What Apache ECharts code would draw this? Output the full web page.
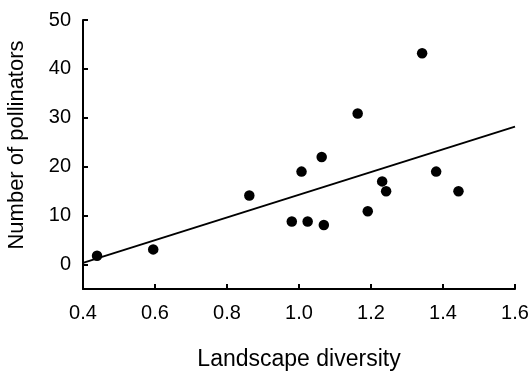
<!DOCTYPE html>
<html>
<head>
<meta charset="utf-8">
<script src="https://cdn.jsdelivr.net/npm/echarts@6/dist/echarts.min.js"></script>
<style>
html, body { margin: 0; padding: 0; background: #fff; }
#main { width: 531px; height: 373px; }
</style>
</head>
<body>
<div id="main"></div>
<script>
// 景观多样性（横坐标）
var diversity = [0.439, 0.595, 0.862, 0.98, 1.007, 1.024, 1.063, 1.069, 1.163, 1.191, 1.231, 1.242, 1.342, 1.381, 1.443];
// 传粉者数量（纵坐标）
var pollinators = [1.8, 3.1, 14.1, 8.8, 19.0, 8.8, 22.0, 8.1, 30.9, 10.9, 17.0, 15.0, 43.2, 19.0, 15.0];
// 回归线两端
var fitX = [0.4, 1.6];
var fitY = [0.35, 28.2];
// 纵轴刻度
var yTicks = [0, 10, 20, 30, 40, 50];

var points = [];
for (var i = 0; i < diversity.length; i++) {
	points[i] = [diversity[i], pollinators[i]];
}
var fitLine = [];
for (var j = 0; j < fitX.length; j++) {
	fitLine[j] = [fitX[j], fitY[j]];
}

var font = 'Liberation Sans, Arial, sans-serif';
var myChart = echarts.init(document.getElementById('main'));
myChart.setOption({
	animation: false,
	grid: { left: 83, right: 16, top: 20, bottom: 84, containLabel: false, outerBoundsMode: 'none' },
	xAxis: {
		type: 'value',
		min: 0.4,
		max: 1.6,
		interval: 0.2,
		name: 'Landscape diversity',
		nameLocation: 'middle',
		nameGap: 59,
		nameTextStyle: { fontFamily: font, fontSize: 23, color: '#000' },
		splitLine: { show: false },
		axisLine: { onZero: false, lineStyle: { color: '#000', width: 2 } },
		axisTick: { inside: true, length: 5, lineStyle: { color: '#000', width: 2 } },
		axisLabel: {
			margin: 14,
			fontFamily: font, fontSize: 20, color: '#000',
			formatter: function (v) { return v.toFixed(1); }
		}
	},
	yAxis: {
		type: 'value',
		min: -5,
		max: 50,
		name: 'Number of pollinators',
		nameLocation: 'middle',
		nameGap: 55,
		nameTextStyle: { fontFamily: font, fontSize: 22, color: '#000', padding: [0, 0, 0, 19] },
		splitLine: { show: false },
		axisLine: { show: true, lineStyle: { color: '#000', width: 2 } },
		axisTick: {
			show: true, inside: true, length: 5,
			customValues: yTicks,
			lineStyle: { color: '#000', width: 2 }
		},
		axisLabel: {
			margin: 12,
			fontFamily: font, fontSize: 20, color: '#000',
			customValues: yTicks
		}
	},
	series: [
		{
			type: 'line',
			data: fitLine,
			symbol: 'none',
			lineStyle: { color: '#000', width: 2 },
			z: 1
		},
		{
			type: 'scatter',
			data: points,
			symbolSize: 10.5,
			itemStyle: { color: '#000', opacity: 1 },
			z: 2
		}
	]
});
</script>
</body>
</html>
